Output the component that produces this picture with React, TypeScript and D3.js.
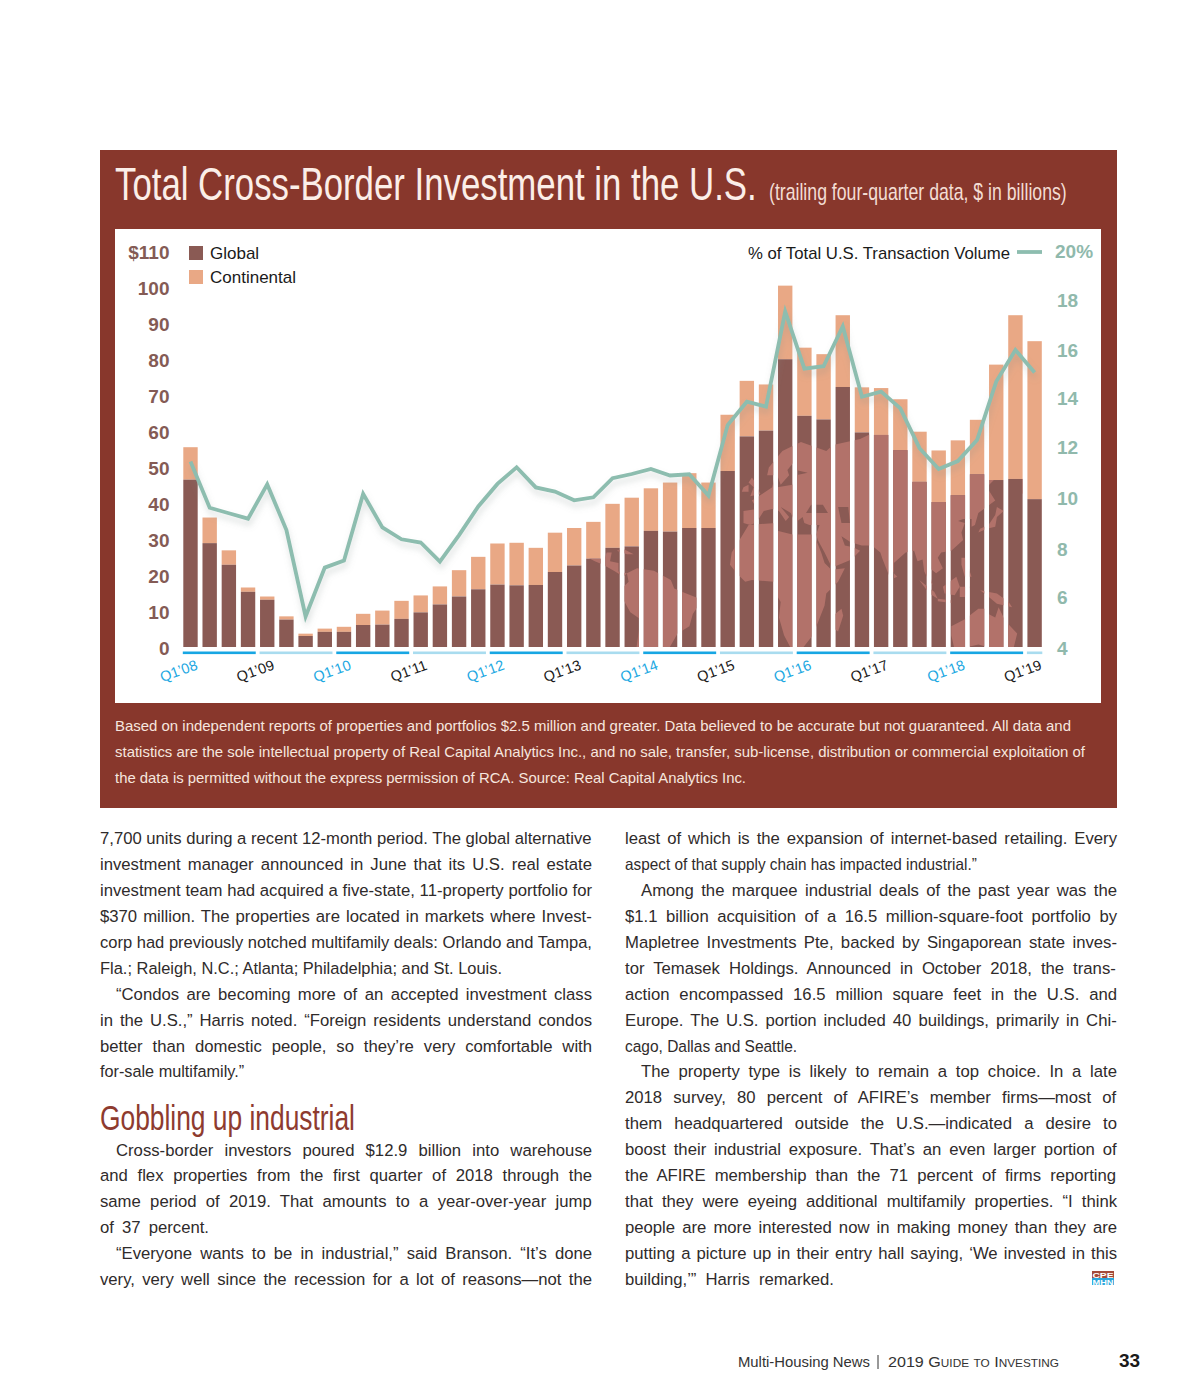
import React from "react";
import * as d3 from "d3";

const tickLabels = ["Q1’08","Q1’09","Q1’10","Q1’11","Q1’12","Q1’13","Q1’14","Q1’15","Q1’16","Q1’17","Q1’18","Q1’19"];
const leftTicks = [0,10,20,30,40,50,60,70,80,90,100,110];
const rightTicks = [4,6,8,10,12,14,16,18,20];
const rightTickNudge = [0,-1,0,-1,-2,-2,0,0,0];
const globalValues = [46.4,28.8,22.8,15.3,13.1,7.6,3.05,4.2,4.2,6.1,6.2,7.8,9.6,11.8,14,16,17.3,17.1,17.2,20.8,22.6,24.5,27.5,27.9,32.2,32,33,33,48.8,58.4,60,79.8,64.1,63.1,72.1,59.5,58.8,54.6,45.8,40.2,42.1,47.9,46.3,46.6,41];
const totalValues = [55.4,35.9,26.8,16.5,14,8.5,3.7,5.1,5.6,9.2,10.1,12.8,14.3,16.8,21.3,25,28.7,28.9,27.5,31.7,33,34.7,39.7,41.4,44,45.6,48.2,45.6,64.4,73.8,72.8,100.2,83,81.2,92,72,71.8,68.7,59.7,54.5,57.3,63,78.3,92,84.8];
const shareValues = [11.56,9.7,9.48,9.26,10.64,8.8,5.32,7.29,7.57,10.26,8.91,8.43,8.3,7.53,8.6,9.75,10.66,11.33,10.52,10.35,10,10.12,10.89,11.06,11.26,11,11.05,10.19,13.03,13.97,13.77,17.6,15.3,15.4,17,14.17,14.38,13.7,12.1,11.26,11.58,12.43,14.78,16.05,15.15];

type P = [number, number];
const landmasses: P[][] = [
  [[-168,66],[-156,71],[-125,70],[-95,72],[-82,68],[-94,60],[-82,52],[-78,62],[-65,60],[-56,52],[-66,45],[-70,42],[-75,37],[-81,31],[-80,25],[-82,28],[-84,30],[-90,29],[-97,27],[-97,22],[-95,18],[-91,18],[-90,21],[-87,21],[-88,16],[-83,15],[-83,10],[-78,9],[-80,7],[-85,10],[-92,14],[-97,16],[-105,20],[-109,26],[-113,31],[-117,33],[-124,40],[-124,48],[-135,58],[-150,60],[-165,55],[-160,59],[-166,62]],
  [[-84,22],[-80,23],[-74,20],[-78,20]],
  [[-78,9],[-72,12],[-62,10.5],[-52,5],[-50,0],[-44,-2.5],[-35,-6],[-35,-9],[-39,-15],[-41,-22],[-48,-26],[-53,-34],[-58,-38],[-65,-42],[-68,-52],[-74,-52],[-73,-38],[-70,-18],[-76,-14],[-81,-5],[-80,1],[-77,4]],
  [[-6,36],[10,37],[11,33],[20,31],[32,31],[34,28],[37,21],[39,15],[43,11],[51,12],[47,4],[40,-3],[39,-10],[35,-20],[32,-27],[26,-34],[19,-34],[15,-27],[12,-17],[13,-8],[9,-1],[9,4],[-4,5],[-8,4],[-13,9],[-17,14],[-16,21],[-10,30]],
  [[-9,37],[-9,43],[-1,44],[-4,48],[2,51],[8,54],[9,57],[11,54],[20,55],[22,59],[29,60],[22,61],[22,65],[17,61],[18,59],[13,55],[11,59],[5,59],[6,62],[14,68],[25,71],[40,68],[44,70],[60,72],[68,74],[72,76],[85,76],[105,78],[113,75],[140,74],[160,71],[180,69],[180,65],[170,60],[162,56],[156,51],[156,58],[142,59],[135,54],[140,48],[130,42],[128,36],[126,35],[126,39],[121,39],[118,38],[122,37],[120,32],[121,28],[114,22],[108,21],[106,18],[109,12],[105,9],[100,13],[103,2],[100,6],[98,10],[97,17],[94,16],[92,22],[87,21],[80,15],[80,10],[77,8],[73,18],[72,21],[67,25],[61,25],[57,26],[54,27],[49,30],[51,25],[56,24],[60,22],[55,17],[45,13],[43,13],[39,21],[35,28],[34,31],[36,36],[30,36],[27,37],[26,40],[23,38],[22,37],[20,40],[19,42],[13,45],[18,40],[16,38],[12,43],[8,44],[3,43],[0,39],[-2,37],[-5,36]],
  [[-5,50],[1,51],[-2,56],[-4,58],[-6,56],[-3,54]],
  [[-10,52],[-6,52],[-6,55],[-9,54]],
  [[-24,65],[-14,65],[-18,63]],
  [[44,-16],[49,-12],[50,-16],[47,-25],[44,-23]],
  [[80,9],[82,7],[80,6]],
  [[130,32],[135,34],[140,35],[141,40],[145,43],[141,45],[140,41],[136,36],[131,34]],
  [[120,18],[122,18],[124,13],[126,7],[122,7],[120,14]],
  [[95,5],[104,-2],[106,-6],[101,-3]],
  [[109,1],[117,7],[119,1],[116,-4],[110,-3]],
  [[119,1],[125,1],[122,-5],[119,-5]],
  [[106,-6],[114,-7],[114,-8.5],[106,-7.5]],
  [[131,-1],[141,-3],[148,-8],[150,-11],[141,-9],[135,-4]],
  [[114,-22],[122,-18],[130,-12],[136,-12],[136,-15],[140,-17],[142,-11],[146,-19],[153,-26],[150,-37],[144,-38],[138,-34],[130,-32],[116,-35],[114,-27]],
];
const innerSeas: P[][] = [
  [[28,42],[41,42],[38,46],[31,46]],
  [[47,45],[53,45],[54,37],[49,37]],
];

const leftLines = [
"7,700 units during a recent 12-month period. The global alternative",
"investment manager announced in June that its U.S. real estate",
"investment team had acquired a five-state, 11-property portfolio for",
"$370 million. The properties are located in markets where Invest-",
"corp had previously notched multifamily deals: Orlando and Tampa,",
"Fla.; Raleigh, N.C.; Atlanta; Philadelphia; and St. Louis.",
"“Condos are becoming more of an accepted investment class",
"in the U.S.,” Harris noted. “Foreign residents understand condos",
"better than domestic people, so they’re very comfortable with",
"for-sale multifamily.”",
];
const leftLines2 = [
"Cross-border investors poured $12.9 billion into warehouse",
"and flex properties from the first quarter of 2018 through the",
"same period of 2019. That amounts to a year-over-year jump",
"of 37 percent.",
"“Everyone wants to be in industrial,” said Branson. “It’s done",
"very, very well since the recession for a lot of reasons—not the",
];
const rightLines = [
"least of which is the expansion of internet-based retailing. Every",
"aspect of that supply chain has impacted industrial.”",
"Among the marquee industrial deals of the past year was the",
"$1.1 billion acquisition of a 16.5 million-square-foot portfolio by",
"Mapletree Investments Pte, backed by Singaporean state inves-",
"tor Temasek Holdings. Announced in October 2018, the trans-",
"action encompassed 16.5 million square feet in the U.S. and",
"Europe. The U.S. portion included 40 buildings, primarily in Chi-",
"cago, Dallas and Seattle.",
"The property type is likely to remain a top choice. In a late",
"2018 survey, 80 percent of AFIRE’s member firms—most of",
"them headquartered outside the U.S.—indicated a desire to",
"boost their industrial exposure. That’s an even larger portion of",
"the AFIRE membership than the 71 percent of firms reporting",
"that they were eyeing additional multifamily properties. “I think",
"people are more interested now in making money than they are",
"putting a picture up in their entry hall saying, ‘We invested in this",
"building,’” Harris remarked.",
];
const noteLines = [
"Based on independent reports of properties and portfolios $2.5 million and greater. Data believed to be accurate but not guaranteed. All data and",
"statistics are the sole intellectual property of Real Capital Analytics Inc., and no sale, transfer, sub-license, distribution or commercial exploitation of",
"the data is permitted without the express permission of RCA. Source: Real Capital Analytics Inc.",
];
const noteEnds = [1071, 1085, 746];

const BODY_FONT = "'Liberation Sans', Arial, sans-serif";
const NARROW_FONT = "'Liberation Sans Narrow', 'Liberation Sans', sans-serif";
const BODY_SIZE = 16.7;

const quarters = globalValues.map((_, i) => `${tickLabels[Math.floor(i / 4)]}-${i % 4}`);
const x = d3.scaleBand<string>().domain(quarters).range([183.3, 1041.8]).paddingInner(0.25).paddingOuter(0);
const yLeft = d3.scaleLinear().domain([0, 110]).range([647, 250.3]);
const yRight = d3.scaleLinear().domain([4, 20]).range([649.3, 252]);
const centre = (i: number) => (x(quarters[i]) as number) + x.bandwidth() / 2;

const miller = d3.geoProjection((l: number, p: number) => [l, 1.25 * Math.log(Math.tan(Math.PI / 4 + 0.4 * p))])
  .scale(96.8).translate([758.7, 588.5]);
const planar = (ring: P[]) => {
  const pts = ring.map((p) => miller(p) as P);
  return "M" + pts.map((p) => p.join(",")).join("L") + "Z";
};

let ctx: CanvasRenderingContext2D | null = null;
function natural(text: string, font: string): number {
  if (!ctx) ctx = document.createElement("canvas").getContext("2d");
  ctx!.font = font;
  return ctx!.measureText(text).width;
}

function Line({ text, x0, x1, y, size = BODY_SIZE, fill = "#2f2b2b" }: { text: string; x0: number; x1: number; y: number; size?: number; fill?: string }) {
  const spaces = text.split(" ").length - 1;
  const w = natural(text, `${size}px ${BODY_FONT}`);
  const slack = x1 - x0 - w;
  if (slack < 0) {
    return (
      <text transform={`translate(${x0},${y}) scale(${(x1 - x0) / w},1)`} fontSize={size} fill={fill} fontFamily={BODY_FONT}>
        {text}
      </text>
    );
  }
  return (
    <text x={x0} y={y} fontSize={size} fill={fill} fontFamily={BODY_FONT} wordSpacing={spaces ? slack / spaces : 0}>
      {text}
    </text>
  );
}

function Fitted({ text, x0, x1, y, size, fill }: { text: string; x0: number; x1: number; y: number; size: number; fill: string }) {
  const w = natural(text, `${size}px ${NARROW_FONT}`);
  return (
    <text transform={`translate(${x0},${y}) scale(${(x1 - x0) / w},1)`} fontSize={size} fill={fill} fontFamily={NARROW_FONT}>
      {text}
    </text>
  );
}

const L = 100, LR = 592, R = 625, RR = 1117;
const leftEnd = (i: number) => (i === 5 ? 503 : i === 9 ? 244 : LR);
const leftStart = (i: number) => (i === 6 ? 116 : L);
const left2End = (i: number) => (i === 3 ? 209 : LR);
const left2Start = (i: number) => (i === 0 || i === 4 ? 116 : L);
const rightEnd = (i: number) => (i === 1 ? 977 : i === 8 ? 797 : i === 17 ? 834 : RR);
const rightStart = (i: number) => (i === 2 || i === 9 ? 641 : R);

export default function App() {
  const linePath = d3.line<number>().x((_, i) => centre(i)).y((d) => yRight(d))(shareValues) as string;
  const years = d3.range(0, quarters.length, 4);
  return (
    <svg width={1200} height={1400} style={{ position: "absolute", left: 0, top: 0, background: "#fff" }}>
      <defs>
        <clipPath id="globalBars">
          {globalValues.map((v, i) => (
            <rect key={i} x={x(quarters[i])} y={yLeft(v)} width={x.bandwidth()} height={yLeft(0) - yLeft(v)} />
          ))}
        </clipPath>
        <filter id="soft" x="-10%" y="-20%" width="120%" height="140%">
          <feDropShadow dx="1" dy="5" stdDeviation="3" floodColor="#7f8f8a" floodOpacity="0.28" />
        </filter>
      </defs>

      <rect x={100} y={150} width={1017} height={658} fill="#88372c" />
      <rect x={115} y={229} width={986} height={474} fill="#fff" />
      <Fitted text="Total Cross-Border Investment in the U.S." x0={115} x1={757} y={200} size={47} fill="#fbeee8" />
      <Fitted text="(trailing four-quarter data, $ in billions)" x0={769} x1={1067} y={200} size={23} fill="#f3ddd4" />

      {globalValues.map((v, i) => (
        <g key={i}>
          <rect x={x(quarters[i])} y={yLeft(totalValues[i])} width={x.bandwidth()} height={yLeft(v) - yLeft(totalValues[i])} fill="#e9a885" />
          <rect x={x(quarters[i])} y={yLeft(v)} width={x.bandwidth()} height={yLeft(0) - yLeft(v)} fill="#8a5a54" />
        </g>
      ))}
      <g clipPath="url(#globalBars)">
        {landmasses.map((r, i) => (
          <path key={i} d={planar(r)} fill="#b2726a" />
        ))}
        {innerSeas.map((r, i) => (
          <path key={i} d={planar(r)} fill="#8a5a54" />
        ))}
      </g>

      {years.map((start, k) => {
        const last = Math.min(start + 3, quarters.length - 1);
        const x0 = x(quarters[start]) as number;
        const x1 = (x(quarters[last]) as number) + x.bandwidth();
        return <rect key={start} x={x0 - 0.5} y={651.5} width={x1 - x0 + 1} height={2.6} fill={k % 2 === 0 ? "#17a6e3" : "#a9dcef"} />;
      })}
      {tickLabels.map((t, k) => {
        const cx = centre(k * 4) - 11.5;
        return (
          <text key={t} transform={`translate(${cx},672) rotate(-20)`} textAnchor="middle" dominantBaseline="middle" fontSize={14.5} fontFamily={BODY_FONT} fill={k % 2 === 0 ? "#1ca8e2" : "#1a1a1a"}>{t}</text>
        );
      })}

      <path d={linePath} fill="none" stroke="#8dbdaf" strokeWidth={3.8} strokeLinejoin="miter" filter="url(#soft)" />

      {leftTicks.map((t) => (
        <text key={t} x={169.5} y={yLeft(t) + 8.4} textAnchor="end" fontSize={19} fontWeight={700} fontFamily={BODY_FONT} fill="#845b55">{t === 110 ? "$110" : t}</text>
      ))}
      {rightTicks.map((t, i) => (
        <text key={t} x={t === 20 ? 1055 : 1057} y={yRight(t) + 5.6 + rightTickNudge[i]} fontSize={19} fontWeight={700} fontFamily={BODY_FONT} fill="#90b9ac">{t === 20 ? "20%" : t}</text>
      ))}

      <rect x={189} y={246} width={14} height={14} fill="#8a5a54" />
      <rect x={189} y={270} width={14} height={14} fill="#e9a885" />
      <text x={210} y={259} fontSize={17} fontFamily={BODY_FONT} fill="#1a1a1a">Global</text>
      <text x={210} y={283} fontSize={17} fontFamily={BODY_FONT} fill="#1a1a1a">Continental</text>
      <text x={748} y={259} fontSize={17} fontFamily={BODY_FONT} fill="#1a1a1a" textLength={262} lengthAdjust="spacingAndGlyphs">% of Total U.S. Transaction Volume</text>
      <line x1={1017} x2={1042} y1={252} y2={252} stroke="#8dbdaf" strokeWidth={3.8} />

      {noteLines.map((t, i) => (
        <text key={i} x={115} y={731 + i * 26} fontSize={15} fontFamily={BODY_FONT} fill="#f6e6df" textLength={noteEnds[i] - 115} lengthAdjust="spacingAndGlyphs">{t}</text>
      ))}

      {leftLines.map((t, i) => (
        <Line key={i} text={t} x0={leftStart(i)} x1={leftEnd(i)} y={844 + i * 25.94} />
      ))}
      <Fitted text="Gobbling up industrial" x0={100} x1={355} y={1130} size={36} fill="#8e3b2f" />
      {leftLines2.map((t, i) => (
        <Line key={i} text={t} x0={left2Start(i)} x1={left2End(i)} y={1155.5 + i * 25.94} />
      ))}
      {rightLines.map((t, i) => (
        <Line key={i} text={t} x0={rightStart(i)} x1={rightEnd(i)} y={844 + i * 25.94} />
      ))}

      <rect x={1092} y={1271} width={22} height={7} fill="#a44a3a" />
      <rect x={1092} y={1278} width={22} height={7} fill="#2ba6dc" />
      <text x={1092.5} y={1277.6} fontSize={8} fontWeight={700} fontFamily={BODY_FONT} fill="#fff" textLength={21} lengthAdjust="spacingAndGlyphs">CPE</text>
      <text x={1092.5} y={1284.6} fontSize={8} fontWeight={700} fontFamily={BODY_FONT} fill="#fff" textLength={21} lengthAdjust="spacingAndGlyphs">MHN</text>

      <text x={738} y={1367} fontSize={14.5} fontFamily={BODY_FONT} fill="#333" textLength={132} lengthAdjust="spacingAndGlyphs">Multi-Housing News</text>
      <line x1={878} x2={878} y1={1355} y2={1369} stroke="#333" strokeWidth={1} />
      <text x={888} y={1367} fontSize={15} fontFamily={BODY_FONT} fill="#333" style={{ fontVariant: "small-caps" }} textLength={171} lengthAdjust="spacingAndGlyphs">2019 Guide to Investing</text>
      <text x={1119} y={1367} fontSize={19} fontWeight={700} fontFamily={BODY_FONT} fill="#1a1a1a">33</text>
    </svg>
  );
}
